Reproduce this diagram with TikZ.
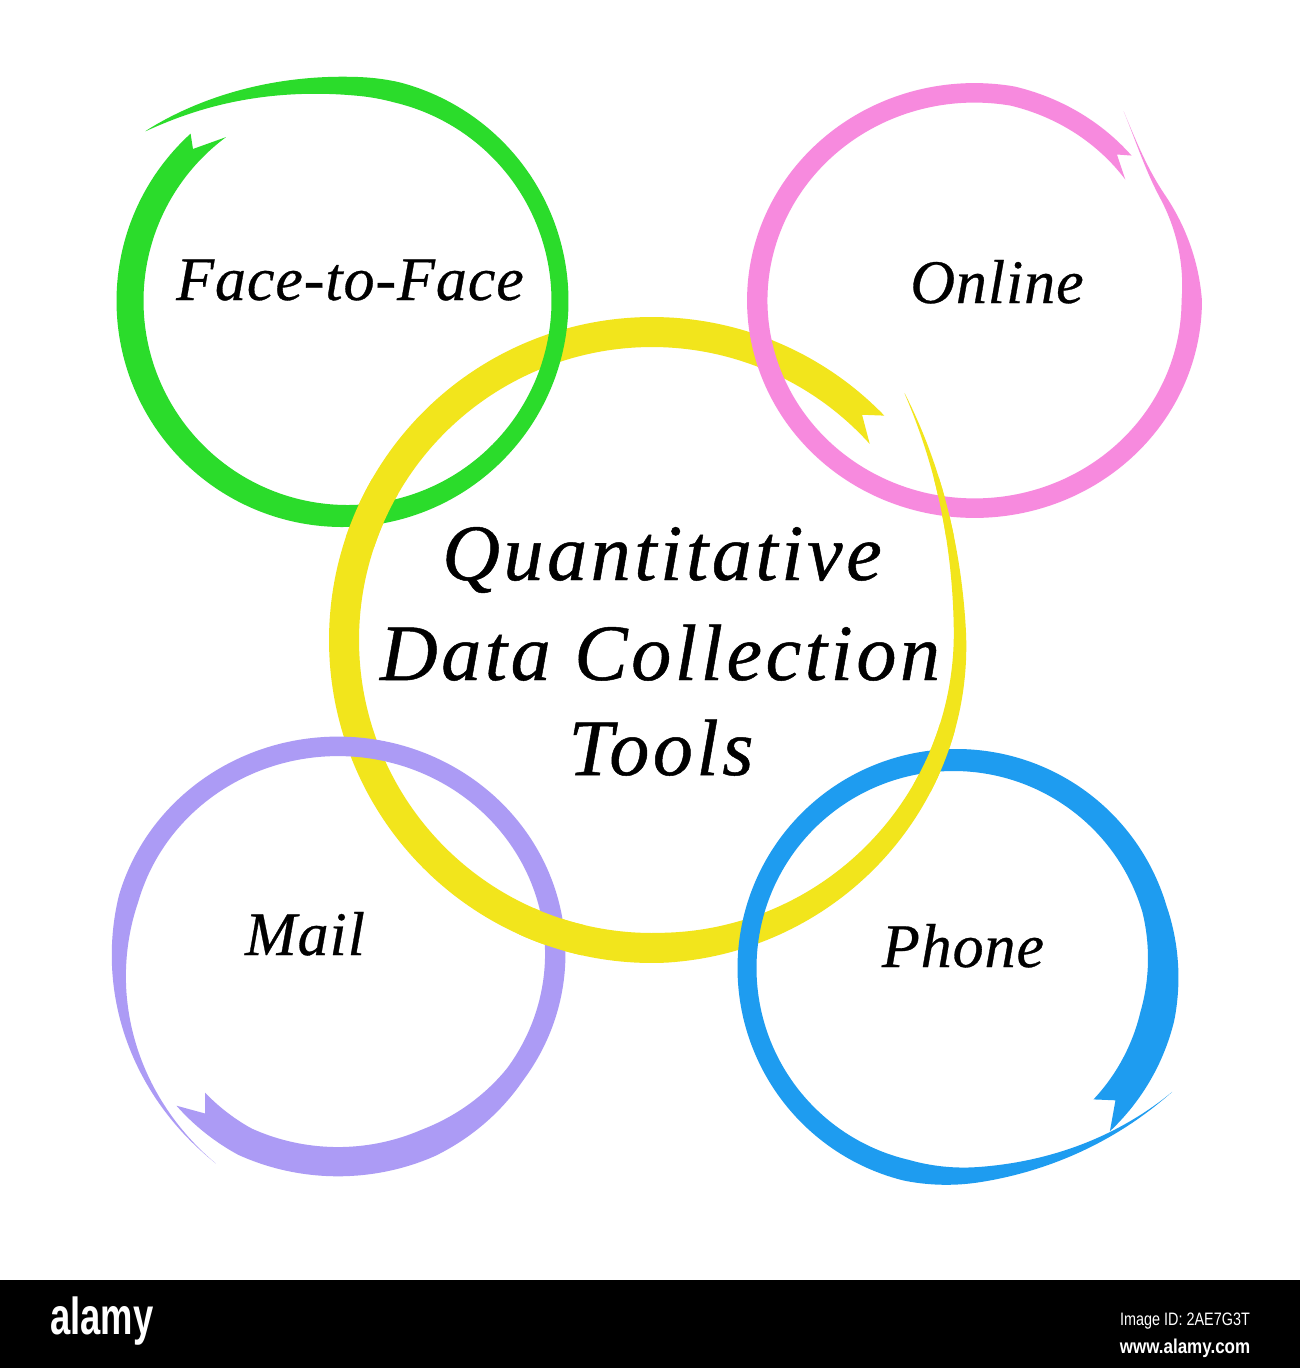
\documentclass[tikz,border=0pt]{standalone}
\usepackage{fontspec}
\setmainfont{Liberation Serif}
\newfontfamily\lblfont{Liberation Serif}[ItalicFeatures={FakeBold=0.5}, LetterSpace=1.5]
\newfontfamily\ttlfont{Liberation Serif}[ItalicFeatures={FakeBold=0.6}, LetterSpace=4.5]
\newfontfamily\barfont{Liberation Sans}
\definecolor{ringgreen}{RGB}{43,220,43}
\definecolor{ringpink}{RGB}{247,138,222}
\definecolor{ringyellow}{RGB}{242,229,28}
\definecolor{ringpurple}{RGB}{172,155,245}
\definecolor{ringblue}{RGB}{30,156,240}
% ring parameters
\newcommand\setring[9]{\def\rCX{#1}\def\rCY{#2}\def\rR{#3}\def\rSX{#4}\def\rSY{#5}\def\rW{#6}\def\rV{#7}\def\rTV{#8}\def\rT{#9}}
\newcommand\setringb[9]{\def\rSmax{#1}\def\rSa{#2}\def\rA{#3}\def\rB{#4}\def\rSb{#5}\def\rSw{#6}\def\rPw{#7}\def\rWB{#8}\def\rSBW{#9}}
\newcommand\setfork[3]{\def\rSi{#1}\def\rSo{#2}\def\rSn{#3}}
\newcommand\drawring[1]{%
  \fill[#1] plot[domain=\rSo:\rSmax,samples=300,variable=\q]
    ({\rCX+\rSX*(rrad(\q)+rwid(\q)/2)*cos(rang(\q))},{\rCY+\rSY*(rrad(\q)+rwid(\q)/2)*sin(rang(\q))})
    -- plot[domain=\rSmax:\rSi,samples=300,variable=\q]
    ({\rCX+\rSX*(rrad(\q)-rwid(\q)/2)*cos(rang(\q))},{\rCY+\rSY*(rrad(\q)-rwid(\q)/2)*sin(rang(\q))})
    -- ({\rCX+\rSX*rrad(\rSn)*cos(rang(\rSn))},{\rCY+\rSY*rrad(\rSn)*sin(rang(\rSn))}) -- cycle;}
\newcommand\yellowring{%
  \setring{652}{640}{308}{1}{1}{30}{0}{0}{-42}%
  \setringb{362.3}{320}{45}{0}{1}{230}{0.8}{0}{0}%
  \setfork{0}{2}{5}%
  \drawring{ringyellow}}
\begin{document}
\begin{tikzpicture}[x=1pt,y=-1pt,
  declare function={
    rang(\u)=\rT-\u;
    rrad(\u)=\rR+\rA*(max(0,(\u-\rSa)/(\rSmax-\rSa)))^2-\rB*max(0,1-\u/\rSb);
    rwid(\u)=(\rW+\rV*cos(\rT-\u-\rTV)+\rWB*max(0,min(1,(\rSBW-\u)/30)))*(max(0.002,min(1,(\rSmax-\u)/(\rSmax-\rSw))))^\rPw;
  },
  lbl/.style={font=\lblfont\itshape\fontsize{62}{62}\selectfont, anchor=base, inner sep=0pt},
  ttl/.style={font=\ttlfont\itshape\fontsize{80}{80}\selectfont, anchor=base, inner sep=0pt},
  bartxt/.style={text=white, inner sep=0pt}]
\useasboundingbox (0,0) rectangle (1300,1368);
\fill[white] (0,0) rectangle (1300,1368);
% central ring
\yellowring
% green
\setring{345}{301}{215}{1}{1}{22}{5}{180}{234}%
\setringb{373.6}{320}{47}{0}{1}{310}{0.8}{0}{0}%
\setfork{0}{6.7}{9}%
\drawring{ringgreen}
% pink
\setring{974.5}{300.5}{213}{1.02}{0.975}{20}{0}{0}{-40}%
\setringb{373}{350}{30}{10}{40}{320}{1.5}{0}{0}%
\setfork{0}{4}{7}%
\drawring{ringpink}
% purple
\setring{338}{954}{213}{1.02}{0.975}{20}{0}{0}{135.5}%
\setringb{376.4}{300}{33}{6}{20}{300}{1.3}{10}{100}%
\setfork{3}{0}{7}%
\drawring{ringpurple}
% blue
\setring{955}{968}{208}{1}{1}{22}{3}{0}{43.5}%
\setringb{373.8}{320}{42}{0}{1}{300}{1.2}{10}{60}%
\setfork{0}{-3}{4}%
\drawring{ringblue}
% yellow over the others at some crossings
\begin{scope}
  \clip (370,513) circle (34) (943,507) circle (30) (553,937) circle (34) (936,758) circle (34);
  \yellowring
\end{scope}
% labels
\node[lbl] (ftf) at (350,300) {Face-to-Face};
\node[lbl] (onl) at (997,303) {Online};
\node[lbl] (mail) at (305,955) {Mail};
\node[lbl] (phone) at (963,967) {Phone};
\node[ttl] (t1) at (662,580) {Quantitative};
\node[ttl] (t2) at (660,680) {Data Collection};
\node[ttl] (t3) at (661,775) {Tools};
% bottom bar
\fill[black] (0,1280) rectangle (1300,1368);
\node[bartxt, anchor=base west, font=\barfont\bfseries\fontsize{52}{52}\selectfont] (logo) at (50,1334) {\scalebox{0.7}[1]{alamy}};
\node[bartxt, anchor=base, font=\barfont\fontsize{18}{18}\selectfont] (imgid) at (1185,1325) {\scalebox{0.8}[1]{Image ID: 2AE7G3T}};
\node[bartxt, anchor=base, font=\barfont\bfseries\fontsize{20}{20}\selectfont] (www) at (1185,1353) {\scalebox{0.85}[1]{www.alamy.com}};
\end{tikzpicture}
\end{document}
